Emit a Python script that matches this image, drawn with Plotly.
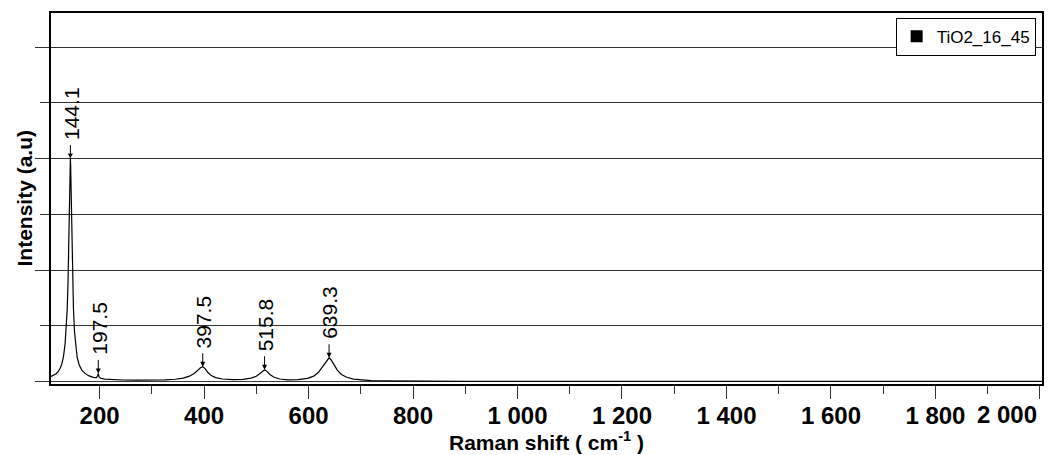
import plotly.graph_objects as go

# Raman spectrum, intensity in arbitrary units (grid step = 1000)
shift = [107, 112, 117, 121, 125, 128, 131, 134, 136, 138, 139.5, 141, 142, 143, 143.6, 144.1,
         144.7, 145.5, 146.5, 147.5, 148.5, 150, 152, 154, 157, 161, 166, 172, 180, 188, 194,
         196.5, 197.5, 199, 202, 210, 225, 245, 270, 300, 325, 345, 360, 372, 381, 388, 393,
         397.5, 402, 407, 413, 422, 435, 455, 475, 490, 500, 507, 512, 515.8, 520, 526, 534,
         545, 560, 580, 598, 610, 619, 626, 632, 636, 639.3, 643, 648, 655, 663, 673, 686,
         700, 720, 745, 775, 810, 850, 900, 950, 1000, 1060, 1120, 1180, 1240, 1300, 1360,
         1420, 1480, 1540, 1600, 1660, 1720, 1780, 1840, 1900, 1960, 2004]
intensity = [95, 115, 145, 185, 250, 330, 460, 680, 930, 1300, 1750, 2400, 2950, 3550, 3850, 4000,
             3850, 3450, 2850, 2250, 1800, 1300, 900, 650, 440, 300, 210, 150, 105, 80, 75,
             110, 150, 85, 62, 48, 38, 32, 28, 28, 34, 45, 65, 100, 150, 205, 250,
             270, 235, 170, 115, 75, 50, 38, 42, 65, 100, 150, 195, 215, 190, 130, 80,
             50, 35, 38, 60, 100, 170, 260, 350, 405, 430, 395, 310, 210, 130, 80, 48,
             32, 22, 16, 12, 10, 8, 7, 6, 6, 7, 6, 7, 6, 6, 7,
             6, 6, 6, 6, 6, 6, 7, 6, 6, 6, 6]

peak_pos = [144.1, 197.5, 397.5, 515.8, 639.3]
peak_val = [4000, 150, 270, 215, 430]
peak_labels = ["144.1", "197.5", "397.5", "515.8", "639.3"]

x_ticks = [200, 400, 600, 800, 1000, 1200, 1400, 1600, 1800, 2000]
x_ticklabels = ["200", "400", "600", "800", "1 000", "1 200", "1 400", "1 600", "1 800", ""]
last_tick_label = "2 000"

series_name = "TiO2_16_45"
x_range = [107, 2004]
y_range = [-40, 6610]

FONT = "Arial, Liberation Sans, sans-serif"

fig = go.Figure()
fig.add_trace(go.Scatter(x=shift, y=intensity, mode="lines",
                         line=dict(color="black", width=1.2), showlegend=False,
                         hoverinfo="skip"))
fig.add_trace(go.Scatter(x=[None], y=[None], mode="markers", name=series_name,
                         marker=dict(symbol="square", color="black", size=9)))

annotations = []
for px, pv, lab in zip(peak_pos, peak_val, peak_labels):
    annotations.append(dict(x=px, y=pv, xref="x", yref="y", text="", showarrow=True,
                            ax=0, ay=-15, arrowhead=2, arrowsize=1, arrowwidth=1,
                            arrowcolor="black", standoff=0))
    annotations.append(dict(x=px, y=pv, xref="x", yref="y", text=lab, showarrow=False,
                            textangle=-90, xanchor="center", yanchor="middle",
                            yshift=45, xshift=1,
                            font=dict(family=FONT, size=21, color="black")))

# last x tick label is right-aligned to its tick in the reference
annotations.append(dict(x=x_ticks[-1], y=0, xref="x", yref="paper", text="<b>" + last_tick_label + "</b>",
                        showarrow=False, xanchor="right", yanchor="middle", yshift=-30, xshift=-1,
                        font=dict(family=FONT, size=24, color="black")))
# axis titles
annotations.append(dict(x=0.5, y=0, xref="paper", yref="paper",
                        text="<b>Raman shift ( cm<sup>-1</sup> )</b>",
                        showarrow=False, xanchor="center", yanchor="middle", yshift=-57,
                        font=dict(family=FONT, size=21, color="black")))
annotations.append(dict(x=0, y=0.5, xref="paper", yref="paper",
                        text="<b>Intensity (a.u)</b>", textangle=-90,
                        showarrow=False, xanchor="center", yanchor="middle", xshift=-27,
                        font=dict(family=FONT, size=21, color="black")))

fig.update_layout(
    width=1059, height=455,
    margin=dict(l=51, r=17, t=13, b=71),
    paper_bgcolor="white", plot_bgcolor="white",
    font=dict(family=FONT, color="black"),
    annotations=annotations,
    legend=dict(x=0.9936, y=0.9876, xanchor="right", yanchor="top",
                bgcolor="white", bordercolor="black", borderwidth=1,
                font=dict(family=FONT, size=17, color="black"),
                itemsizing="constant", itemwidth=30),
)

fig.update_xaxes(
    range=x_range, tickmode="array", tickvals=x_ticks, ticktext=x_ticklabels,
    showgrid=False, zeroline=False, automargin=False,
    showline=True, linecolor="black", linewidth=1.5, mirror=True,
    ticks="outside", ticklen=13, tickwidth=1, tickcolor="#333",
    ticklabelstandoff=-4,
    tickfont=dict(family=FONT, size=24, color="black", weight="bold"),
    minor=dict(tickmode="linear", tick0=0, dtick=100, ticks="outside", ticklen=8,
               tickwidth=1, tickcolor="#333", showgrid=False),
)
fig.update_yaxes(
    range=y_range, tick0=0, dtick=2000,
    showgrid=True, gridcolor="#333", gridwidth=1, zeroline=False, automargin=False,
    showline=True, linecolor="black", linewidth=1.5, mirror=True,
    ticks="outside", ticklen=14, tickwidth=1, tickcolor="#333",
    showticklabels=False,
    minor=dict(dtick=1000, ticks="outside", ticklen=9, tickwidth=1, tickcolor="#333",
               showgrid=True, gridcolor="#333", gridwidth=1),
)

fig.write_html("out.html")
